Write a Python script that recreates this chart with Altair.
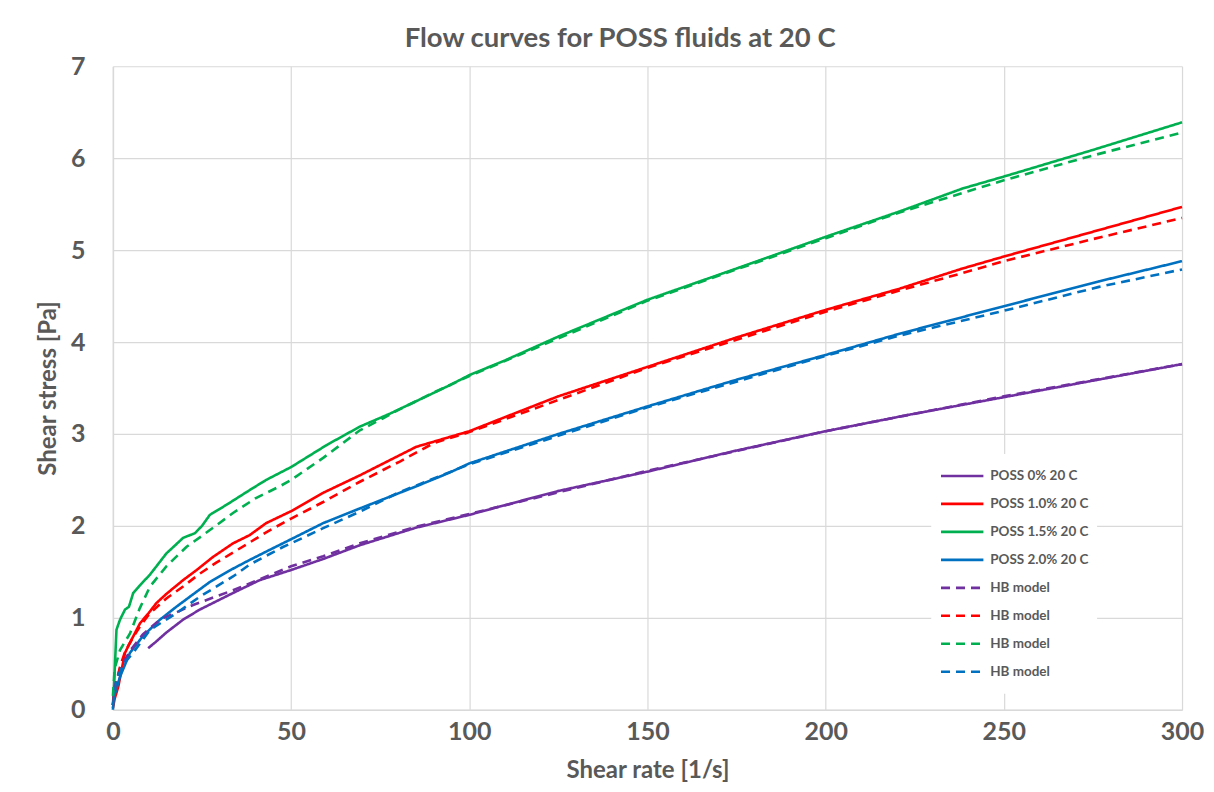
import altair as alt
import pandas as pd

# ---------------- data ----------------
keys = ["k1", "k2", "k3", "k4", "k5", "k6", "k7", "k8"]
labels = ["POSS 0% 20 C", "POSS 1.0% 20 C", "POSS 1.5% 20 C", "POSS 2.0% 20 C",
          "HB model", "HB model", "HB model", "HB model"]
colors = ["#7030A0", "#FF0000", "#00B050", "#0070C0",
          "#7030A0", "#FF0000", "#00B050", "#0070C0"]

# POSS 0% 20 C (measured)
x_p0 = [9.9, 11.8, 15, 19.7, 24.4, 33.7, 41.2, 50, 59, 69.3, 85, 100, 108.5, 125, 150, 175, 200, 223.5, 250, 275, 300]
y_p0 = [0.67, 0.73, 0.84, 0.98, 1.09, 1.27, 1.41, 1.52, 1.64, 1.79, 1.98, 2.12, 2.21, 2.38, 2.59, 2.82, 3.03, 3.21, 3.40, 3.58, 3.76]

# POSS 1.0% 20 C (measured)
x_p10 = [0, 0.5, 1.5, 3.4, 4.8, 7.6, 10, 12.2, 15, 19.7, 23.5, 28, 33.7, 38.4, 43, 50, 59, 69.3, 85.1, 100, 108.5, 125, 150, 175, 200, 220.7, 238.4, 250, 275, 300]
y_p10 = [0.02, 0.12, 0.25, 0.62, 0.73, 0.94, 1.05, 1.16, 1.26, 1.41, 1.52, 1.66, 1.81, 1.90, 2.03, 2.16, 2.36, 2.55, 2.86, 3.03, 3.16, 3.41, 3.73, 4.05, 4.35, 4.58, 4.80, 4.93, 5.20, 5.47]

# POSS 1.5% 20 C (measured)
x_p15 = [0, 0.3, 1, 2, 3.4, 4.5, 5.7, 7.5, 10.4, 13, 15, 17.5, 19.7, 23, 25, 27.2, 31.9, 38.4, 43, 50, 60, 69.3, 77.7, 94.5, 100, 110, 125, 150, 175, 200, 220.7, 238.4, 250, 275, 300]
y_p15 = [0.05, 0.25, 0.87, 0.98, 1.09, 1.12, 1.27, 1.35, 1.47, 1.60, 1.70, 1.79, 1.87, 1.92, 2.00, 2.12, 2.23, 2.39, 2.50, 2.64, 2.88, 3.08, 3.22, 3.53, 3.64, 3.80, 4.06, 4.46, 4.80, 5.145, 5.42, 5.67, 5.80, 6.09, 6.39]

# POSS 2.0% 20 C (measured)
x_p20 = [0, 0.3, 2, 4.8, 8.4, 13.2, 17.8, 23, 27.2, 33, 38.4, 43, 50, 59, 69.3, 85.1, 94.5, 100, 125, 150, 175, 200, 220.7, 250, 276.7, 300]
y_p20 = [0.0, 0.14, 0.36, 0.62, 0.80, 0.98, 1.12, 1.27, 1.39, 1.52, 1.63, 1.72, 1.855, 2.03, 2.19, 2.43, 2.58, 2.68, 3.00, 3.30, 3.59, 3.86, 4.09, 4.39, 4.66, 4.88]

# HB model fits
x_h0 = [0, 0.5, 2, 5, 8.4, 13.2, 22.5, 33.7, 41.2, 50, 59, 69.3, 85, 100, 150, 200, 250, 300]
y_h0 = [0.05, 0.25, 0.45, 0.65, 0.82, 0.98, 1.14, 1.30, 1.42, 1.56, 1.67, 1.81, 1.99, 2.13, 2.60, 3.03, 3.41, 3.76]

x_h10 = [0, 0.5, 2, 3.5, 5.7, 8, 10.4, 15, 19.7, 24, 29, 33.7, 38.4, 43, 50, 59, 69.3, 80.5, 90, 100, 150, 200, 220.7, 238.4, 250, 275, 300]
y_h10 = [0.05, 0.20, 0.47, 0.64, 0.79, 0.93, 1.05, 1.21, 1.34, 1.47, 1.60, 1.71, 1.82, 1.93, 2.08, 2.26, 2.48, 2.70, 2.90, 3.02, 3.72, 4.33, 4.56, 4.75, 4.88, 5.12, 5.35]

x_h15 = [0, 0.5, 2, 4.8, 7.5, 10.4, 15, 20.6, 26, 33.7, 40, 46.8, 50, 59, 69.3, 75.8, 80, 90, 100, 150, 200, 220.7, 250, 275, 300]
y_h15 = [0.15, 0.45, 0.65, 0.83, 1.10, 1.34, 1.56, 1.77, 1.92, 2.14, 2.30, 2.43, 2.50, 2.74, 3.04, 3.17, 3.26, 3.45, 3.63, 4.45, 5.13, 5.41, 5.76, 6.03, 6.28]

x_h20 = [0, 1, 3, 5.7, 10.4, 17.8, 24.4, 33.7, 38.4, 47.7, 50, 59, 69.3, 80, 100, 150, 200, 220.7, 250, 276.7, 300]
y_h20 = [0.05, 0.33, 0.50, 0.62, 0.87, 1.05, 1.23, 1.45, 1.58, 1.77, 1.81, 1.975, 2.155, 2.36, 2.67, 3.29, 3.85, 4.07, 4.34, 4.60, 4.79]

x_ticks = [0, 50, 100, 150, 200, 250, 300]
y_ticks = [0, 1, 2, 3, 4, 5, 6, 7]

# ---------------- build table ----------------
series = [(x_p0, y_p0), (x_p10, y_p10), (x_p15, y_p15), (x_p20, y_p20),
          (x_h0, y_h0), (x_h10, y_h10), (x_h15, y_h15), (x_h20, y_h20)]
rows = []
for k, (xs, ys) in zip(keys, series):
    for i, (a, b) in enumerate(zip(xs, ys)):
        rows.append({"key": k, "x": a, "y": b, "i": i})
df = pd.DataFrame(rows)

dashes = [[1, 0]] * 4 + [[9, 6]] * 4
label_expr = "{" + ",".join(f"'{k}':'{l}'" for k, l in zip(keys, labels)) + "}[datum.value]"

GRAY = "#595959"
GRID = "#d9d9d9"
FONT = "Lato"

legend = alt.Legend(
    title=None, orient="none", legendX=819, legendY=388,
    labelExpr=label_expr, labelFont=FONT, labelFontSize=13.5, labelFontWeight="bold",
    labelColor=GRAY, symbolType="stroke", symbolSize=1800, symbolStrokeWidth=2.6,
    fillColor="white", padding=8, rowPadding=0, clipHeight=28, labelOffset=5, labelLimit=200,
)

chart = alt.Chart(df).mark_line(strokeWidth=2.6, strokeCap="butt").encode(
    x=alt.X("x:Q", scale=alt.Scale(domain=[0, 300], nice=False),
            axis=alt.Axis(values=x_ticks, title="Shear rate [1/s]", labelPadding=10,
                          titlePadding=14, labelFlush=False)),
    y=alt.Y("y:Q", scale=alt.Scale(domain=[0, 7], nice=False),
            axis=alt.Axis(values=y_ticks, title="Shear stress [Pa]", labelPadding=28,
                          titlePadding=10, labelFlush=False)),
    color=alt.Color("key:N", scale=alt.Scale(domain=keys, range=colors), legend=legend),
    strokeDash=alt.StrokeDash("key:N", scale=alt.Scale(domain=keys, range=dashes), legend=legend),
    order="i:Q",
).properties(
    width=1070, height=644,
    padding={"left": 36, "top": 24, "right": 10, "bottom": 4},
    background="white",
    title=alt.TitleParams("Flow curves for POSS fluids at 20 C", font=FONT, fontSize=27.5,
                          fontWeight="bold", color=GRAY, anchor="middle", frame="bounds",
                          offset=2),
).configure_axis(
    labelFont=FONT, labelFontSize=25, labelFontWeight="bold", labelColor=GRAY,
    titleFont=FONT, titleFontSize=24, titleFontWeight="bold", titleColor=GRAY,
    ticks=False, grid=True, gridColor=GRID, gridWidth=1.2, domainColor=GRID, domainWidth=1.5,
).configure_view(stroke=None)

chart.save("out.html", embed_options={"renderer": "svg", "actions": False})
